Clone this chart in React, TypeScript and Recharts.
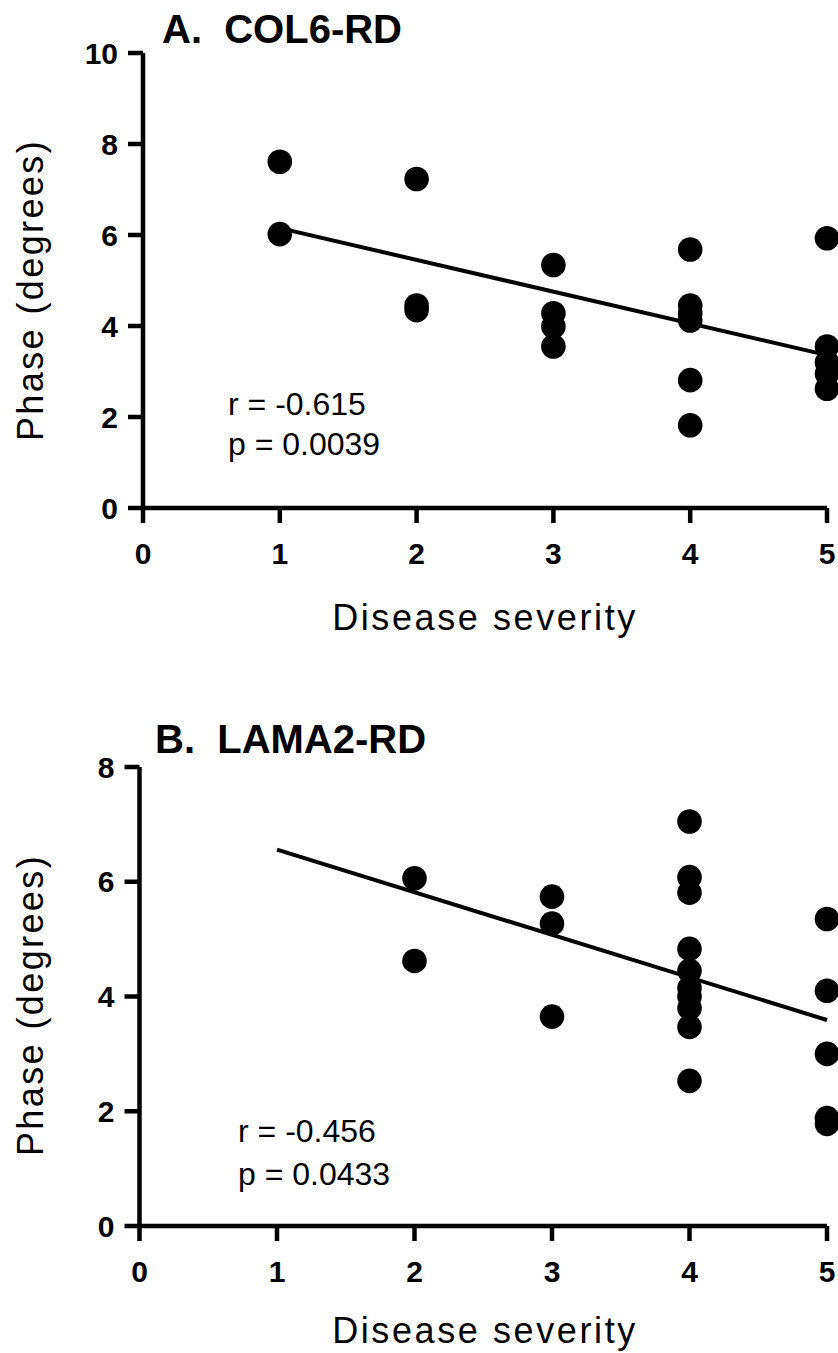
import React from 'react';
import { ScatterChart, Scatter, XAxis, YAxis } from 'recharts';

// ---- data ----
const severityTicks = [0, 1, 2, 3, 4, 5];
const phaseTicksA = [0, 2, 4, 6, 8, 10];
const phaseTicksB = [0, 2, 4, 6, 8];

// A. COL6-RD
const colSeverity = [1, 1, 2, 2, 2, 3, 3, 3, 3, 4, 4, 4, 4, 4, 4, 5, 5, 5, 5, 5];
const colPhase = [7.61, 6.02, 7.23, 4.45, 4.35, 5.34, 4.28, 3.99, 3.55, 5.68, 4.45, 4.28, 4.12, 2.81, 1.82, 5.93, 3.55, 3.2, 2.95, 2.62];
const colFitSeverity = [1, 5];
const colFitPhase = [6.15, 3.36];

// B. LAMA2-RD
const lamaSeverity = [2, 2, 3, 3, 3, 4, 4, 4, 4, 4, 4, 4, 4, 4, 4, 5, 5, 5, 5, 5];
const lamaPhase = [6.06, 4.62, 5.74, 5.27, 3.65, 7.05, 6.08, 5.81, 4.83, 4.45, 4.15, 4.0, 3.8, 3.47, 2.53, 5.35, 4.1, 3.0, 1.88, 1.78];
const lamaFitSeverity = [1, 5];
const lamaFitPhase = [6.56, 3.59];

const titleA = 'A.  COL6-RD';
const titleB = 'B.  LAMA2-RD';
const statsA = ['r = -0.615', 'p = 0.0039'];
const statsB = ['r = -0.456', 'p = 0.0433'];
const xLabel = 'Disease severity';
const yLabel = 'Phase (degrees)';

const FONT = '"Liberation Sans", Arial, Helvetica, sans-serif';

const toPoints = (xs: number[], ys: number[]) => xs.map((x, i) => ({ x, y: ys[i] }));

const Dot = (p: any) => <circle cx={p.cx} cy={p.cy} r={12.3} fill="#000" />;
const NoDot = () => <g />;

const axisStroke = { stroke: '#000', strokeWidth: 4.5 };
const tickStyle = { fontSize: 30, fontWeight: 'bold', fill: '#000', fontFamily: FONT };

type PanelProps = {
  height: number;
  top: number;
  yWidth: number;
  xHeight: number;
  yDomain: [number, number];
  yTicks: number[];
  points: { x: number; y: number }[];
  fit: { x: number; y: number }[];
  title: string;
  titleX: number;
  titleY: number;
  stats: string[];
  statsX: number;
  statsY: number;
  statsGap: number;
  yLabelCenter: number;
  xLabelY: number;
};

function Panel(p: PanelProps) {
  return (
    <ScatterChart
      width={838}
      height={p.height}
      margin={{ top: p.top, right: 11, bottom: 0, left: 0 }}
    >
      <XAxis
        type="number"
        dataKey="x"
        domain={[0, 5]}
        ticks={severityTicks}
        interval={0}
        height={p.xHeight}
        axisLine={axisStroke}
        tickLine={axisStroke}
        tickSize={15}
        tickMargin={20}
        tick={tickStyle}
      />
      <YAxis
        type="number"
        dataKey="y"
        domain={p.yDomain}
        ticks={p.yTicks}
        interval={0}
        width={p.yWidth}
        axisLine={axisStroke}
        tickLine={axisStroke}
        tickSize={15}
        tickMargin={10}
        tick={tickStyle}
      />
      <Scatter
        data={p.fit}
        line={{ stroke: '#000', strokeWidth: 4 }}
        lineType="joint"
        shape={NoDot}
        isAnimationActive={false}
        legendType="none"
      />
      <Scatter data={p.points} fill="#000" shape={Dot} isAnimationActive={false} />
      <text x={p.titleX} y={p.titleY} fontFamily={FONT} fontSize={40} fontWeight="bold" fill="#000" style={{ whiteSpace: 'pre' }}>
        {p.title}
      </text>
      {p.stats.map((s, i) => (
        <text key={i} x={p.statsX} y={p.statsY + i * p.statsGap} fontFamily={FONT} fontSize={32} fill="#000">
          {s}
        </text>
      ))}
      <text
        x={43}
        y={p.yLabelCenter}
        transform={`rotate(-90 43 ${p.yLabelCenter})`}
        textAnchor="middle"
        fontFamily={FONT}
        fontSize={36}
        letterSpacing={2.4}
        fill="#000"
      >
        {yLabel}
      </text>
      <text x={485} y={p.xLabelY} textAnchor="middle" fontFamily={FONT} fontSize={36} letterSpacing={2.6} fill="#000">
        {xLabel}
      </text>
    </ScatterChart>
  );
}

export default function App() {
  return (
    <div style={{ position: 'absolute', left: 0, top: 0, width: 838, height: 1353, background: '#fff' }}>
      <div style={{ position: 'absolute', left: 0, top: 0 }}>
        <Panel
          height={660}
          top={53}
          yWidth={143}
          xHeight={152}
          yDomain={[0, 10]}
          yTicks={phaseTicksA}
          points={toPoints(colSeverity, colPhase)}
          fit={toPoints(colFitSeverity, colFitPhase)}
          title={titleA}
          titleX={162}
          titleY={43}
          stats={statsA}
          statsX={228}
          statsY={415}
          statsGap={40}
          yLabelCenter={290}
          xLabelY={630}
        />
      </div>
      <div style={{ position: 'absolute', left: 0, top: 660 }}>
        <Panel
          height={693}
          top={107}
          yWidth={139.5}
          xHeight={127}
          yDomain={[0, 8]}
          yTicks={phaseTicksB}
          points={toPoints(lamaSeverity, lamaPhase)}
          fit={toPoints(lamaFitSeverity, lamaFitPhase)}
          title={titleB}
          titleX={155}
          titleY={93}
          stats={statsB}
          statsX={238}
          statsY={482}
          statsGap={43}
          yLabelCenter={345}
          xLabelY={683}
        />
      </div>
    </div>
  );
}
